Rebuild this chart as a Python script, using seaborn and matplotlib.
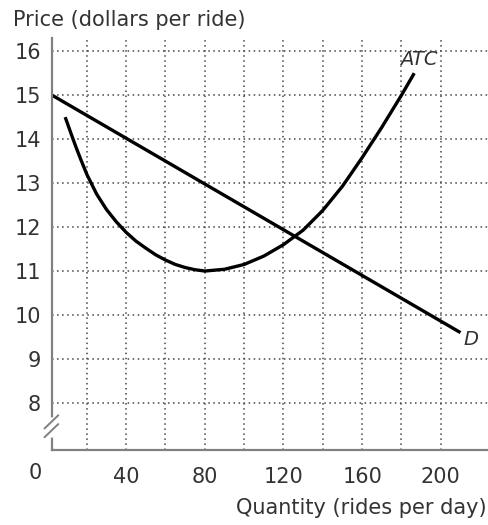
import matplotlib
matplotlib.use("Agg")
import matplotlib.pyplot as plt
import seaborn as sns
import pandas as pd

# values
demand_q = [2.3, 210]
demand_p = [15.0, 9.6]

atc_q = [9, 11, 13, 15, 17, 20, 25, 30, 35, 40, 45, 50, 55, 60, 65, 70, 75, 80, 90, 100, 110,
         120, 130, 140, 150, 160, 170, 180, 186.5]
atc_p = [14.5, 14.25, 14.0, 13.76, 13.53, 13.2, 12.75, 12.4, 12.12, 11.88, 11.68, 11.52, 11.37,
         11.25, 11.15, 11.08, 11.03, 11.0, 11.04, 11.15, 11.34, 11.6, 11.93, 12.38, 12.93, 13.58,
         14.27, 15.0, 15.5]

x_ticks = [20, 40, 60, 80, 100, 120, 140, 160, 180, 200]
x_labels = ["", "40", "", "80", "", "120", "", "160", "", "200"]
y_ticks = [8, 9, 10, 11, 12, 13, 14, 15, 16]

sns.set_style("white")
plt.rcParams["font.family"] = ["DejaVu Sans"]
text_color = "#333333"
axis_color = "#808080"

fig = plt.figure(figsize=(4.89, 5.25), dpi=100)
ax = fig.add_axes([52 / 489, 75 / 525, 1 - 52 / 489, (450 - 38) / 525])

demand = pd.DataFrame({"q": demand_q, "p": demand_p})
atc = pd.DataFrame({"q": atc_q, "p": atc_p})
sns.lineplot(data=demand, x="q", y="p", ax=ax, color="black", lw=2.4, sort=False,
             solid_capstyle="butt")
sns.lineplot(data=atc, x="q", y="p", ax=ax, color="black", lw=2.4, sort=False,
             solid_capstyle="butt", solid_joinstyle="round")

ax.set_xlim(2.3, 224.5)
ax.set_ylim(6.93, 16.3)
ax.set_xticks(x_ticks)
ax.set_xticklabels(x_labels)
ax.set_yticks(y_ticks)
ax.set_xlabel("")
ax.set_ylabel("")

ax.grid(True, linestyle=(0, (1, 2.3)), color="#444444", lw=1.1)
ax.tick_params(axis="x", direction="in", length=6, width=1.3, color=axis_color,
               labelsize=15, labelcolor=text_color, pad=12)
ax.tick_params(axis="y", direction="out", length=4, width=1.3, color=axis_color,
               labelsize=15, labelcolor=text_color, pad=4)

for s in ["top", "right"]:
    ax.spines[s].set_visible(False)
for s in ["left", "bottom"]:
    ax.spines[s].set_color(axis_color)
    ax.spines[s].set_linewidth(1.6)

# axis break on the price axis
ax.plot([2.3, 2.3], [7.28, 7.62], color="white", lw=4, clip_on=False, zorder=5)
ax.plot([-1.5, 5.5], [7.22, 7.52], color=axis_color, lw=1.4, clip_on=False, zorder=6)
ax.plot([-1.5, 5.5], [7.42, 7.72], color=axis_color, lw=1.4, clip_on=False, zorder=6)

ax.text(189, 15.8, "ATC", fontsize=14, style="italic", color=text_color, ha="center", va="center")
ax.text(215.5, 9.45, "D", fontsize=14, style="italic", color=text_color, ha="center", va="center")

fig.text(35 / 489, 1 - 473 / 525, "0", fontsize=15, color=text_color, ha="center", va="center")
fig.text(13 / 489, 1 - 20 / 525, "Price (dollars per ride)", fontsize=15, color=text_color,
         ha="left", va="center")
fig.text(487 / 489, 1 - 508 / 525, "Quantity (rides per day)", fontsize=15, color=text_color,
         ha="right", va="center")

fig.savefig("out.png", dpi=100, facecolor="white")
